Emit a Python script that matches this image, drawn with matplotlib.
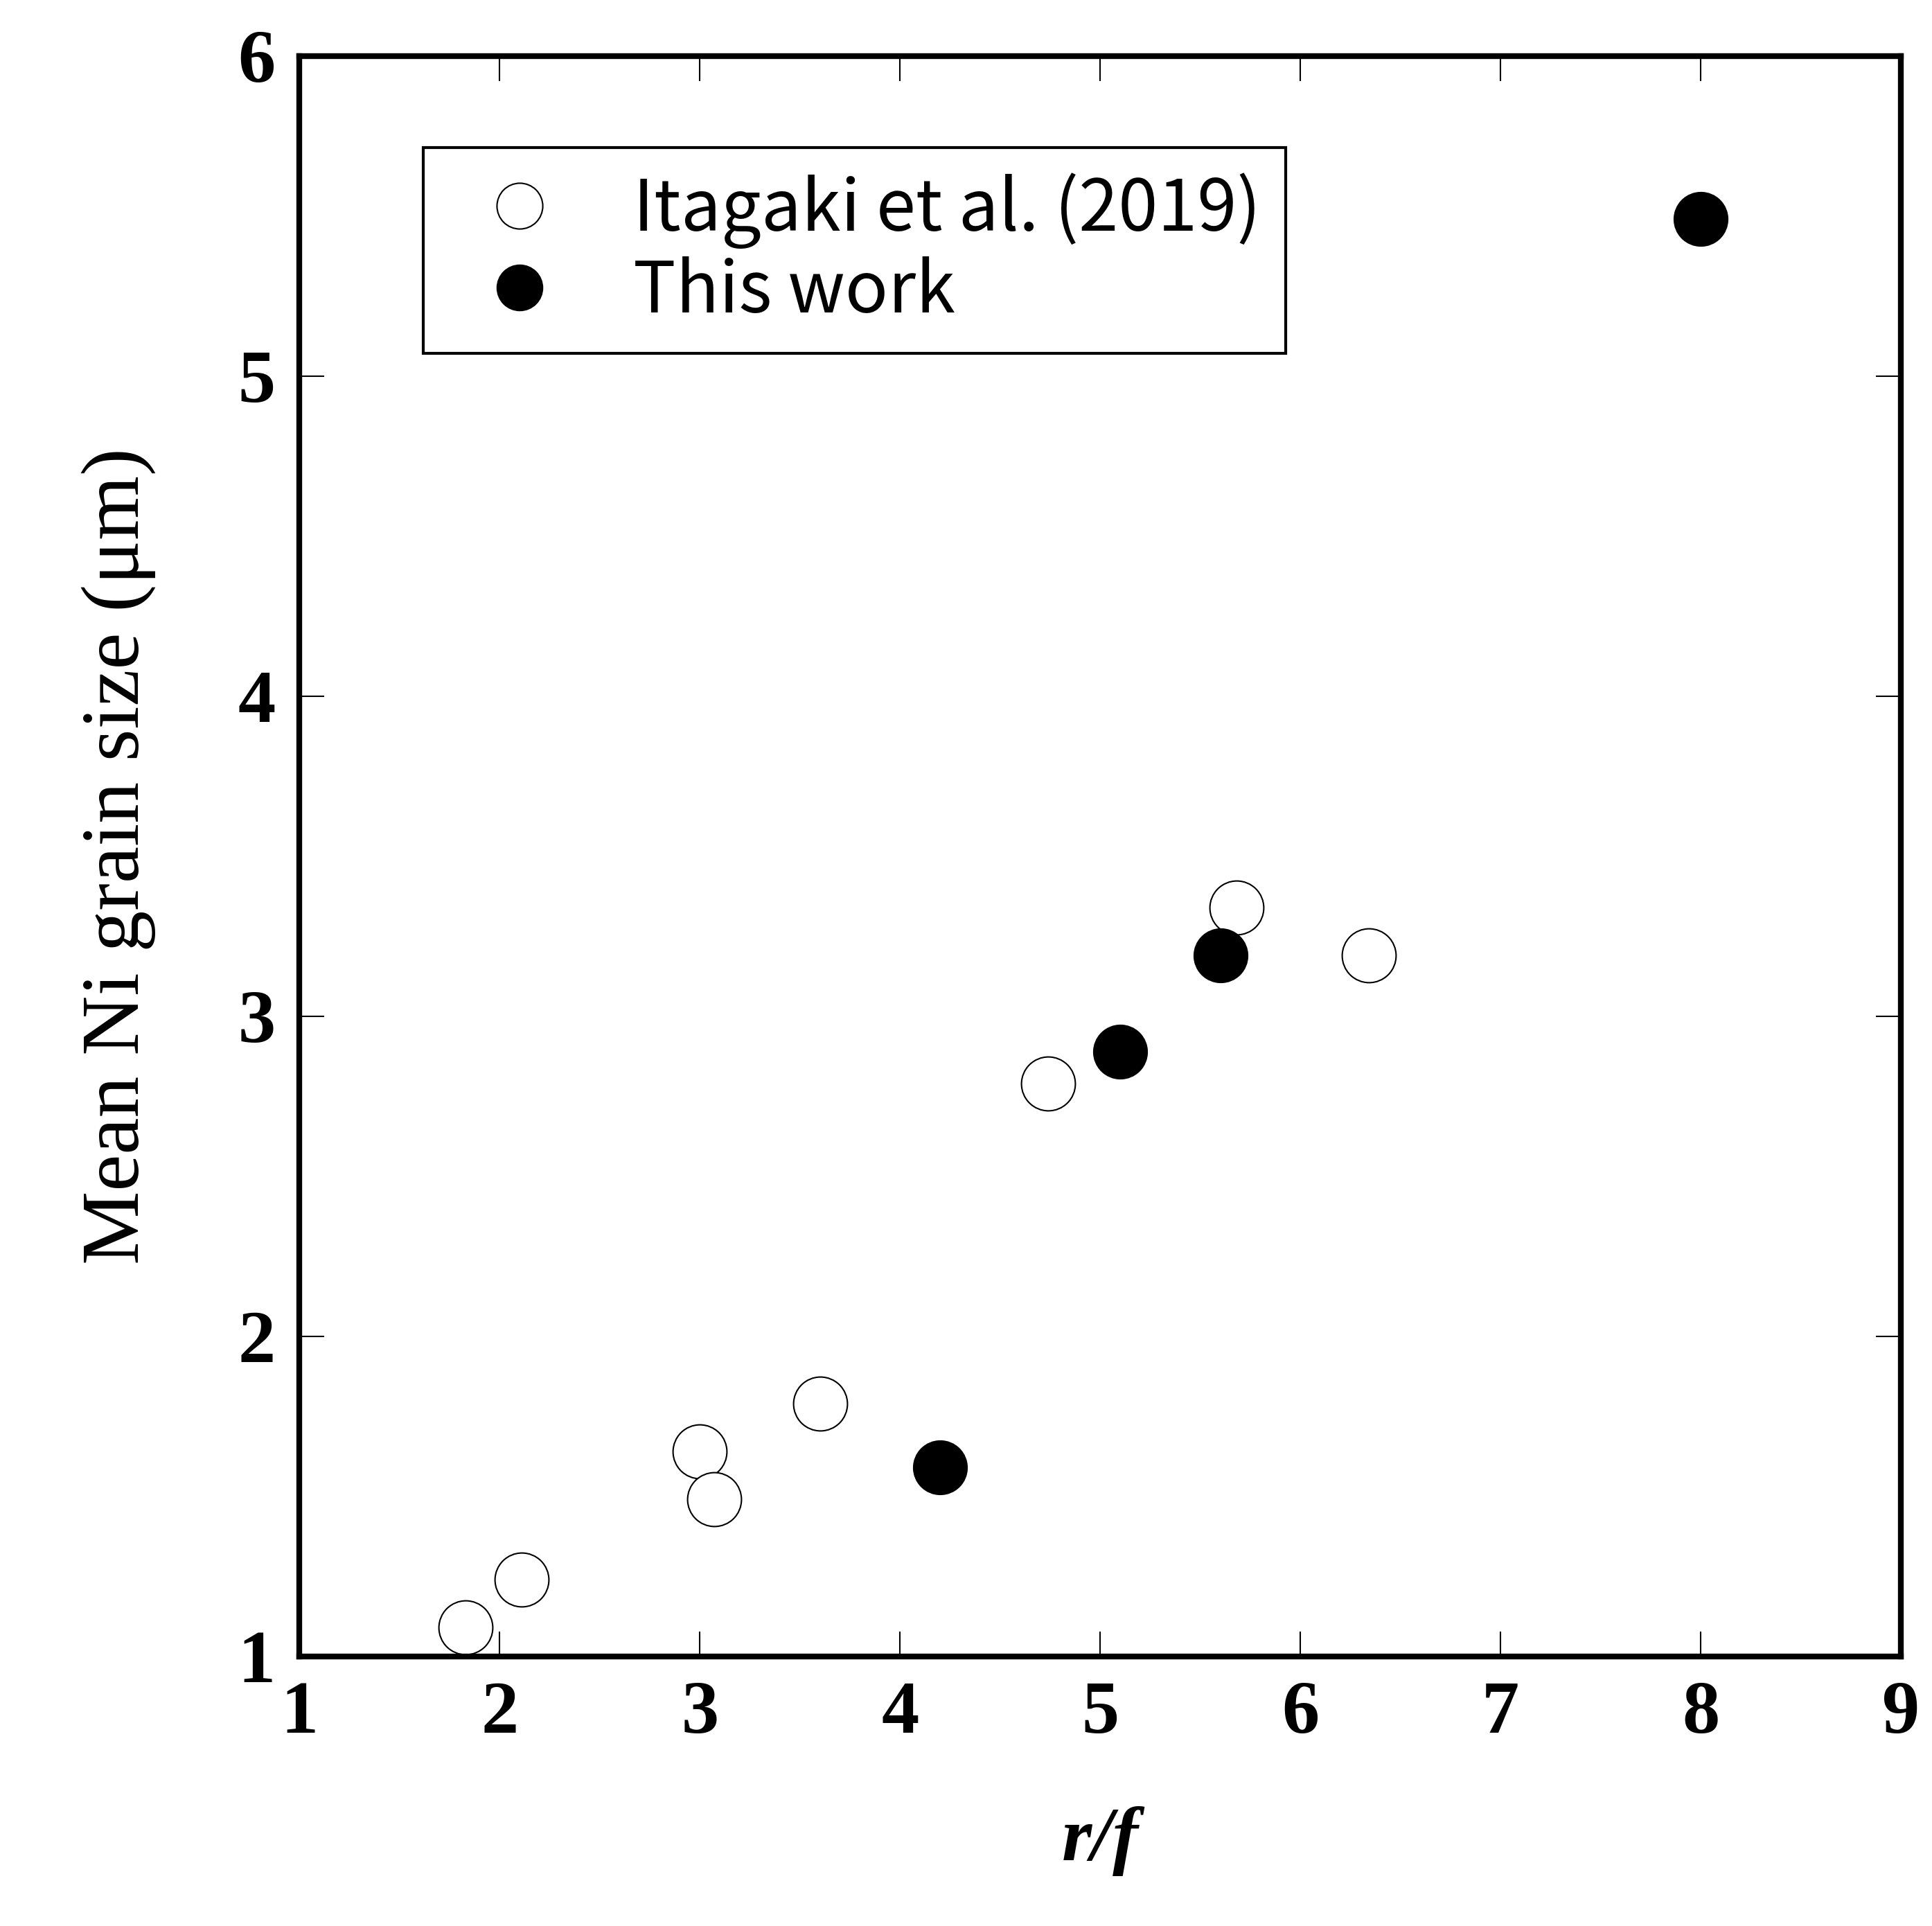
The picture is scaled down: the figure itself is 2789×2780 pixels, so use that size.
import matplotlib.pyplot as plt

# Itagaki et al. (2019)
ita_x = [1.83, 2.11, 3.00, 3.07, 3.60, 4.74, 5.68, 6.34]
ita_y = [1.09, 1.24, 1.64, 1.49, 1.79, 2.79, 3.34, 3.19]
# This work
work_x = [4.20, 5.10, 5.60, 8.00]
work_y = [1.59, 2.89, 3.19, 5.49]

serif = ["Liberation Serif", "Times New Roman", "DejaVu Serif"]

fig = plt.figure(figsize=(27.89, 27.80), dpi=100)
ax = fig.add_axes([0.155, 0.140, 0.829, 0.831])

ax.plot(ita_x, ita_y, "o", ms=56, mfc="white", mec="black", mew=1.5,
        label="Itagaki et al. (2019)", linestyle="none")
ax.plot(work_x, work_y, "o", ms=56, mfc="black", mec="black",
        label="This work", linestyle="none")

ax.set_xlim(1, 9)
ax.set_ylim(1, 6)
ax.set_xticks(range(1, 10))
ax.set_yticks(range(1, 7))
for s in ax.spines.values():
    s.set_linewidth(6)
ax.tick_params(direction="in", length=26, width=1.5, top=True, right=True,
               labelsize=78, pad=25)
for lab in ax.get_xticklabels() + ax.get_yticklabels():
    lab.set_family(serif)
    lab.set_fontweight("bold")

ax.set_xlabel("r/f", family=serif, fontsize=80,
              fontweight="bold", style="italic", labelpad=60)
ax.set_ylabel("Mean Ni grain size (μm)", family=serif,
              fontsize=86, labelpad=85)

leg = ax.legend(loc="upper left", bbox_to_anchor=(0.055, 0.965),
                prop={"family": ["Noto Sans CJK JP", "DejaVu Sans"], "size": 74},
                fancybox=False, edgecolor="black", framealpha=1,
                handletextpad=0.6, borderpad=0.35, labelspacing=0.1,
                markerscale=0.85)
leg.get_frame().set_linewidth(3)

fig.savefig("out.png", dpi=100)
